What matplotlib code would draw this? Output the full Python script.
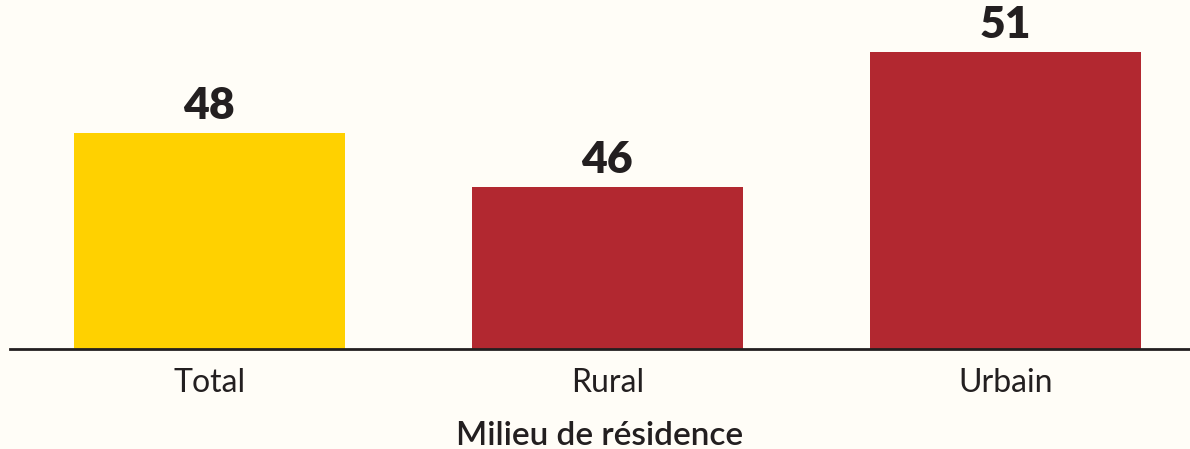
import matplotlib
matplotlib.use("Agg")
import matplotlib.pyplot as plt

categories = ["Total", "Rural", "Urbain"]
values = [48, 46, 51]
colors = ["#FFD100", "#B22830", "#B22830"]
xlabel = "Milieu de résidence"

BG = "#FFFDF7"
TXT = "#231F20"

fig = plt.figure(figsize=(11.9, 4.49), dpi=100, facecolor=BG)
ax = fig.add_axes([10/1190, 100/449, 1180/1190, 349/449])
ax.set_facecolor(BG)

x = list(range(len(categories)))
bars = ax.bar(x, values, width=0.681, color=colors, bottom=0)
ax.set_ylim(40, 40 + 349/27)
ax.set_xlim(-0.501, 2.464)

for xi, v in zip(x, values):
    ax.annotate(f"{v}", (xi, v), xytext=(0, 5), textcoords="offset points",
                ha="center", va="bottom", fontsize=32, fontweight="heavy",
                color=TXT, family="Lato")

for s in ["top", "right", "left"]:
    ax.spines[s].set_visible(False)
ax.spines["bottom"].set_linewidth(2)
ax.spines["bottom"].set_color(TXT)
ax.set_yticks([])
ax.set_xticks(x)
ax.set_xticklabels(categories, fontsize=23, color=TXT, family="Lato", fontweight="normal")
ax.tick_params(axis="x", length=0, pad=14)
ax.set_xlabel(xlabel, fontsize=24, color=TXT, family="Lato", fontweight="semibold", labelpad=16)

fig.savefig("out.png", dpi=100, facecolor=BG)
